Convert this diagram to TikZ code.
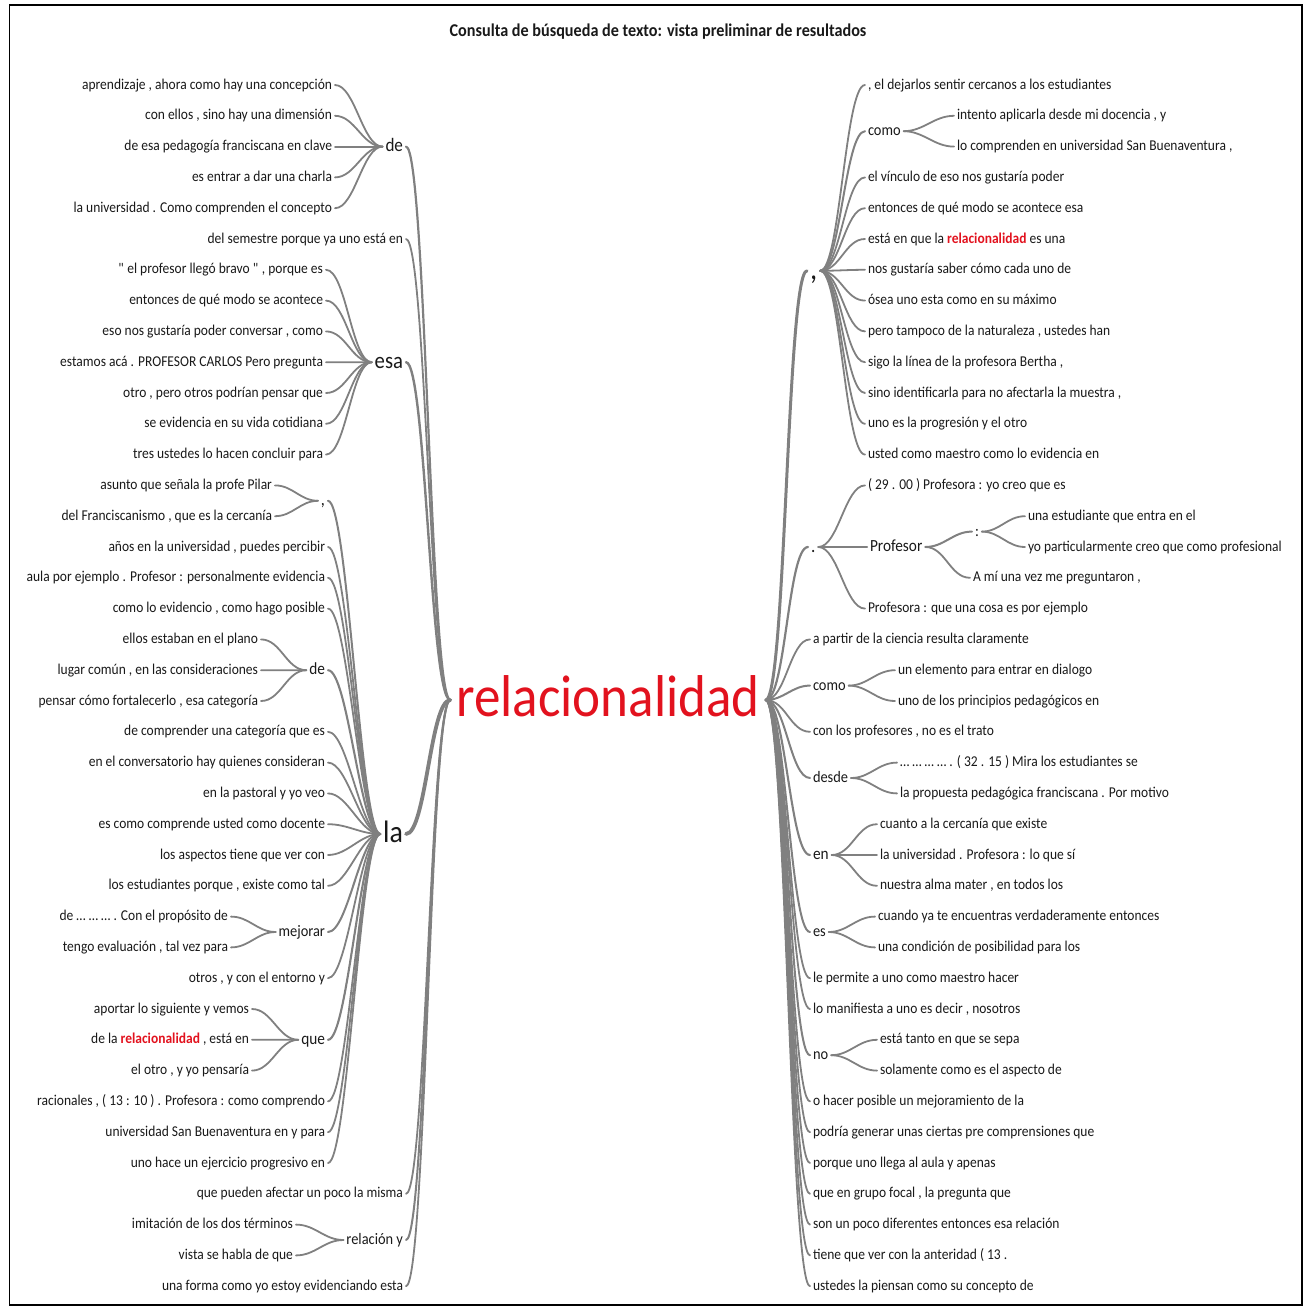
\documentclass[tikz,border=0pt]{standalone}
\usepackage{fontspec}
\setmainfont{Carlito}[FakeStretch=0.9]
\definecolor{twiggray}{RGB}{128,128,128}
\definecolor{hitred}{RGB}{226,18,30}
\newcommand{\hit}[1]{\textcolor{hitred}{\textbf{#1}}}
\tikzset{word/.style={font=\fontsize{#1}{#1}\selectfont, text height={0.75*#1 pt}, text depth={0.2*#1 pt}}}
\tikzstyle{lbl}=[inner xsep=3pt, inner ysep=0pt, outer sep=0pt, text=black!90]
\tikzstyle{leaf}=[lbl, word=15]
\tikzstyle{twig}=[draw=twiggray, line width=1.8pt, line cap=round, out=0, in=180, max distance=20pt]

\begin{document}
\begin{tikzpicture}[x=1pt, y=-1pt]
  \useasboundingbox (0,0) rectangle (1310,1311);
  \draw[line width=1.3pt] (9.5,5) rectangle (1302,1305);
  \node[lbl, word=18, font=\bfseries\fontsize{18}{18}\selectfont] (title) at (658,32) {Consulta de búsqueda de texto: vista preliminar de resultados};

  % root word
  \node[lbl, word=59, text=hitred, inner xsep=6pt] (root) at (608,700) {relacionalidad};

  % left side, words before
  \node[lbl, word=19, anchor=east] (lde) at (406,146.6) {de};
  \node[lbl, word=23, anchor=east] (lesa) at (406,362.2) {esa};
  \node[lbl, word=31, anchor=east] (lla) at (406,834) {la};
  \node[lbl, word=18, anchor=east] (lcomma) at (328,500.8) {,};
  \node[lbl, word=17, anchor=east] (lde2) at (328,670.2) {de};
  \node[lbl, word=16, anchor=east] (lmejorar) at (328,932) {mejorar};
  \node[lbl, word=17, anchor=east] (lque) at (328,1039.8) {que};
  \node[lbl, word=16, anchor=east] (lrelacion) at (406,1240) {relación y};
  \draw[twig, line width=2.2pt] (lde.east) to (root.west);
  \draw[twig, line width=2.4pt] (lesa.east) to (root.west);
  \draw[twig, line width=3.8pt] (lla.east) to (root.west);
  \draw[twig, line width=2pt] (lrelacion.east) to (root.west);
  \draw[twig, line width=2pt] (lcomma.east) to (lla.west);
  \draw[twig, line width=2.1pt] (lde2.east) to (lla.west);
  \draw[twig, line width=2pt] (lmejorar.east) to (lla.west);
  \draw[twig, line width=2.1pt] (lque.east) to (lla.west);

  \foreach \r/\x/\up/\txt in {
    0/335/lde/{aprendizaje , ahora como hay una concepción},
    1/335/lde/{con ellos , sino hay una dimensión},
    2/335/lde/{de esa pedagogía franciscana en clave},
    3/335/lde/{es entrar a dar una charla},
    4/335/lde/{la universidad . Como comprenden el concepto},
    5/406/root/{del semestre porque ya uno está en},
    6/326/lesa/{\textquotedbl{} el profesor llegó bravo \textquotedbl{} , porque es},
    7/326/lesa/{entonces de qué modo se acontece},
    8/326/lesa/{eso nos gustaría poder conversar , como},
    9/326/lesa/{estamos acá . PROFESOR CARLOS Pero pregunta},
    10/326/lesa/{otro , pero otros podrían pensar que},
    11/326/lesa/{se evidencia en su vida cotidiana},
    12/326/lesa/{tres ustedes lo hacen concluir para},
    13/275/lcomma/{asunto que señala la profe Pilar},
    14/275/lcomma/{del Franciscanismo , que es la cercanía},
    15/328/lla/{años en la universidad , puedes percibir},
    16/328/lla/{aula por ejemplo . Profesor : personalmente evidencia},
    17/328/lla/{como lo evidencio , como hago posible},
    18/261/lde2/{ellos estaban en el plano},
    19/261/lde2/{lugar común , en las consideraciones},
    20/261/lde2/{pensar cómo fortalecerlo , esa categoría},
    21/328/lla/{de comprender una categoría que es},
    22/328/lla/{en el conversatorio hay quienes consideran},
    23/328/lla/{en la pastoral y yo veo},
    24/328/lla/{es como comprende usted como docente},
    25/328/lla/{los aspectos tiene que ver con},
    26/328/lla/{los estudiantes porque , existe como tal},
    27/231/lmejorar/{de … … … . Con el propósito de},
    28/231/lmejorar/{tengo evaluación , tal vez para},
    29/328/lla/{otros , y con el entorno y},
    30/252/lque/{aportar lo siguiente y vemos},
    31/252/lque/{de la \hit{relacionalidad} , está en},
    32/252/lque/{el otro , y yo pensaría},
    33/328/lla/{racionales , ( 13 : 10 ) . Profesora : como comprendo},
    34/328/lla/{universidad San Buenaventura en y para},
    35/328/lla/{uno hace un ejercicio progresivo en},
    36/406/root/{que pueden afectar un poco la misma},
    37/296/lrelacion/{imitación de los dos términos},
    38/296/lrelacion/{vista se habla de que},
    39/406/root/{una forma como yo estoy evidenciando esta}}
  {
    \node[leaf, anchor=east] (L\r) at ({\x},{85+30.8*\r}) {\txt};
    \draw[twig] (L\r.east) to (\up.west);
  }

  % right side, words after
  \node[lbl, word=32, anchor=west] (rcomma) at (807,270.8) {,};
  \node[lbl, word=16, anchor=west] (rcomo) at (865,131.2) {como};
  \node[lbl, word=19, anchor=west] (rdot) at (808,547) {.};
  \node[lbl, word=17, anchor=west] (rprofesor) at (867,547) {Profesor};
  \node[lbl, word=16, anchor=west] (rcolon) at (972,531.6) {:};
  \node[lbl, word=16, anchor=west] (rcomo2) at (810,685.6) {como};
  \node[lbl, word=16, anchor=west] (rdesde) at (810,778) {desde};
  \node[lbl, word=17, anchor=west] (ren) at (810,855) {en};
  \node[lbl, word=16, anchor=west] (res) at (810,932) {es};
  \node[lbl, word=16, anchor=west] (rno) at (810,1055.2) {no};
  \draw[twig, line width=3pt] (root.east) to (rcomma.west);
  \draw[twig, line width=2pt] (rcomma.east) to (rcomo.west);
  \draw[twig, line width=2.2pt] (root.east) to (rdot.west);
  \draw[twig, line width=2.1pt] (rdot.east) to (rprofesor.west);
  \draw[twig, line width=2pt] (rprofesor.east) to (rcolon.west);
  \draw[twig, line width=2pt] (root.east) to (rcomo2.west);
  \draw[twig, line width=2pt] (root.east) to (rdesde.west);
  \draw[twig, line width=2.1pt] (root.east) to (ren.west);
  \draw[twig, line width=2pt] (root.east) to (res.west);
  \draw[twig, line width=2pt] (root.east) to (rno.west);

  \foreach \r/\x/\up/\txt in {
    0/865/rcomma/{, el dejarlos sentir cercanos a los estudiantes},
    1/954/rcomo/{intento aplicarla desde mi docencia , y},
    2/954/rcomo/{lo comprenden en universidad San Buenaventura ,},
    3/865/rcomma/{el vínculo de eso nos gustaría poder},
    4/865/rcomma/{entonces de qué modo se acontece esa},
    5/865/rcomma/{está en que la \hit{relacionalidad} es una},
    6/865/rcomma/{nos gustaría saber cómo cada uno de},
    7/865/rcomma/{ósea uno esta como en su máximo},
    8/865/rcomma/{pero tampoco de la naturaleza , ustedes han},
    9/865/rcomma/{sigo la línea de la profesora Bertha ,},
    10/865/rcomma/{sino identificarla para no afectarla la muestra ,},
    11/865/rcomma/{uno es la progresión y el otro},
    12/865/rcomma/{usted como maestro como lo evidencia en},
    13/865/rdot/{( 29 . 00 ) Profesora : yo creo que es},
    14/1025/rcolon/{una estudiante que entra en el},
    15/1025/rcolon/{yo particularmente creo que como profesional},
    16/970/rprofesor/{A mí una vez me preguntaron ,},
    17/865/rdot/{Profesora : que una cosa es por ejemplo},
    18/810/root/{a partir de la ciencia resulta claramente},
    19/895/rcomo2/{un elemento para entrar en dialogo},
    20/895/rcomo2/{uno de los principios pedagógicos en},
    21/810/root/{con los profesores , no es el trato},
    22/897/rdesde/{… … … … . ( 32 . 15 ) Mira los estudiantes se},
    23/897/rdesde/{la propuesta pedagógica franciscana . Por motivo},
    24/877/ren/{cuanto a la cercanía que existe},
    25/877/ren/{la universidad . Profesora : lo que sí},
    26/877/ren/{nuestra alma mater , en todos los},
    27/875/res/{cuando ya te encuentras verdaderamente entonces},
    28/875/res/{una condición de posibilidad para los},
    29/810/root/{le permite a uno como maestro hacer},
    30/810/root/{lo manifiesta a uno es decir , nosotros},
    31/877/rno/{está tanto en que se sepa},
    32/877/rno/{solamente como es el aspecto de},
    33/810/root/{o hacer posible un mejoramiento de la},
    34/810/root/{podría generar unas ciertas pre comprensiones que},
    35/810/root/{porque uno llega al aula y apenas},
    36/810/root/{que en grupo focal , la pregunta que},
    37/810/root/{son un poco diferentes entonces esa relación},
    38/810/root/{tiene que ver con la anteridad ( 13 .},
    39/810/root/{ustedes la piensan como su concepto de}}
  {
    \node[leaf, anchor=west] (R\r) at ({\x},{85+30.8*\r}) {\txt};
    \draw[twig] (\up.east) to (R\r.west);
  }
\end{tikzpicture}
\end{document}
